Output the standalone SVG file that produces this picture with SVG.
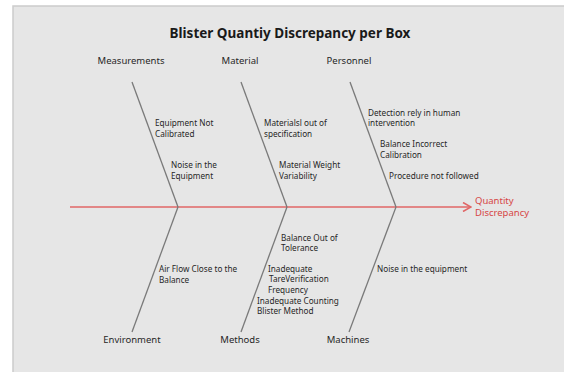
<svg xmlns="http://www.w3.org/2000/svg" width="564" height="372" viewBox="0 0 564 372">
  <style>
    .title { font-family: "Noto Sans", "Open Sans", sans-serif; font-size: 13.5px; font-weight: bold; fill: #1a1a1a; text-anchor: middle; }
    .cat { font-family: "Noto Sans", "Open Sans", sans-serif; font-size: 9.5px; fill: #262626; text-anchor: middle; }
    .cause { font-family: "Noto Sans", "Open Sans", sans-serif; font-size: 8.2px; fill: #262626; }
    .effect { font-family: "Noto Sans", "Open Sans", sans-serif; font-size: 9.5px; fill: #d64545; }
    .bone { stroke: #7a7a7a; stroke-width: 1.3; fill: none; }
    .spine { stroke: #e06666; stroke-width: 1.6; fill: none; }
  </style>
  <defs>
    <marker id="head" markerWidth="10" markerHeight="10" refX="9" refY="5" orient="auto" markerUnits="userSpaceOnUse">
      <path d="M1,0.5 L9,5 L1,9.5" stroke="#e06666" stroke-width="1.6" fill="none"/>
    </marker>
  </defs>

  <rect x="0" y="0" width="564" height="372" fill="#ffffff"/>
  <rect x="13" y="6" width="560" height="380" fill="#e6e6e6" stroke="#cccccc" stroke-width="1.5"/>

  <text class="title" x="290" y="38">Blister Quantiy Discrepancy per Box</text>

  <g id="connectors">
    <line class="spine" x1="70" y1="207" x2="471" y2="207" marker-end="url(#head)"/>
    <line class="bone" x1="132" y1="82" x2="178" y2="207"/>
    <line class="bone" x1="241" y1="82" x2="287" y2="207"/>
    <line class="bone" x1="350" y1="82" x2="396" y2="207"/>
    <line class="bone" x1="178" y1="207" x2="132" y2="332"/>
    <line class="bone" x1="287" y1="207" x2="241" y2="332"/>
    <line class="bone" x1="396" y1="207" x2="349" y2="332"/>
  </g>

  <g id="effect">
    <text class="effect" x="475" y="204">Quantity</text>
    <text class="effect" x="475" y="216">Discrepancy</text>
  </g>

  <g id="measurements">
    <text class="cat" x="131" y="64">Measurements</text>
    <text class="cause" x="155" y="126">Equipment Not</text>
    <text class="cause" x="155" y="137">Calibrated</text>
    <text class="cause" x="171" y="168">Noise in the</text>
    <text class="cause" x="171" y="179">Equipment</text>
  </g>

  <g id="material">
    <text class="cat" x="240" y="64">Material</text>
    <text class="cause" x="264" y="126">Materialsl out of</text>
    <text class="cause" x="264" y="137">specification</text>
    <text class="cause" x="279" y="168">Material Weight</text>
    <text class="cause" x="279" y="179">Variability</text>
  </g>

  <g id="personnel">
    <text class="cat" x="349" y="64">Personnel</text>
    <text class="cause" x="368" y="116">Detection rely in human</text>
    <text class="cause" x="368" y="126">intervention</text>
    <text class="cause" x="380" y="147">Balance  Incorrect</text>
    <text class="cause" x="380" y="158">Calibration</text>
    <text class="cause" x="389" y="179">Procedure not followed</text>
  </g>

  <g id="environment">
    <text class="cat" x="132" y="343">Environment</text>
    <text class="cause" x="159" y="272">Air Flow Close to the</text>
    <text class="cause" x="159" y="283">Balance</text>
  </g>

  <g id="methods">
    <text class="cat" x="240" y="343">Methods</text>
    <text class="cause" x="281" y="241">Balance Out of</text>
    <text class="cause" x="281" y="251">Tolerance</text>
    <text class="cause" x="268" y="272">Inadequate</text>
    <text class="cause" x="269" y="282">TareVerification</text>
    <text class="cause" x="268" y="293">Frequency</text>
    <text class="cause" x="257" y="304">Inadequate Counting</text>
    <text class="cause" x="257" y="314">Blister Method</text>
  </g>

  <g id="machines">
    <text class="cat" x="348" y="343">Machines</text>
    <text class="cause" x="377" y="272">Noise in the equipment</text>
  </g>
</svg>
